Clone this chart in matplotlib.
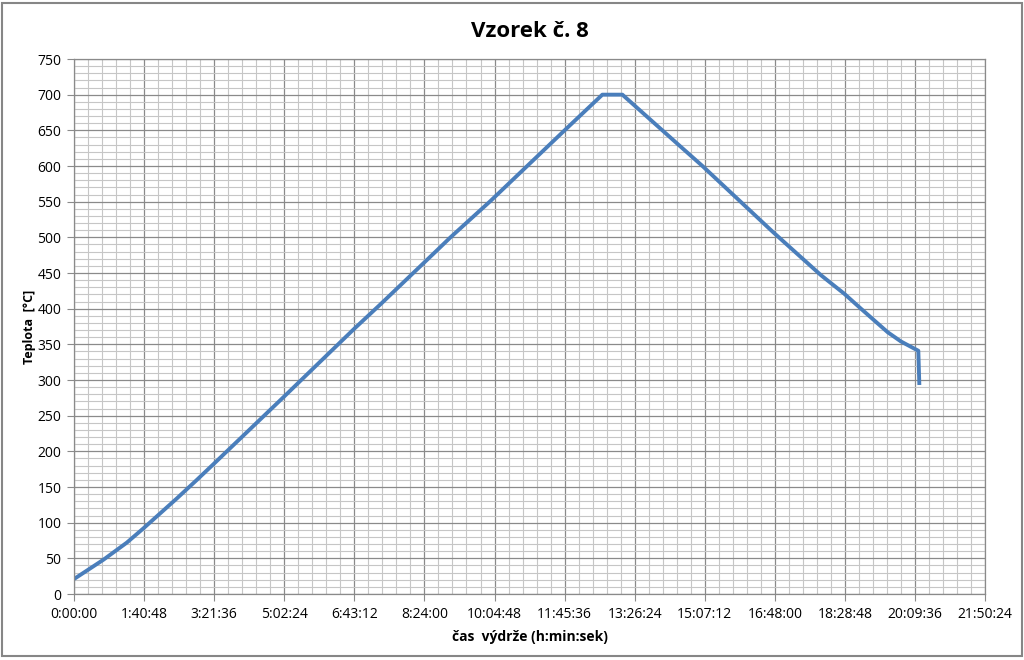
import numpy as np
import pandas as pd
import matplotlib
matplotlib.use('Agg')
import matplotlib.pyplot as plt
from matplotlib.ticker import MultipleLocator, FuncFormatter
from matplotlib.patches import Rectangle

plt.rcParams['font.family'] = ['Open Sans', 'DejaVu Sans']

# readings (time as h:mm:ss, temperature in °C)
times = ['0:00:00', '0:42:12', '1:15:53', '1:39:47', '2:03:51', '2:27:54',
         '2:56:41', '3:21:36', '5:02:24', '6:43:12', '7:20:38', '8:24:00',
         '8:42:17', '9:01:26', '9:59:03', '11:45:36', '12:39:54', '13:08:42',
         '14:32:38', '15:03:52', '16:44:40', '17:54:15', '18:27:47',
         '18:51:50', '19:30:17', '19:49:26', '20:14:22', '20:15:50']
temps = [21, 48, 72, 92, 113, 134,
         160, 183, 277, 372, 406, 465,
         482, 500, 551, 650, 700, 700,
         627, 600, 508, 447, 421,
         400, 367, 354, 341, 293]

title = 'Vzorek č. 8'
xlabel = 'čas  výdrže (h:min:sek)'
ylabel = 'Teplota  [°C]'

secs = pd.to_timedelta(times).total_seconds().to_numpy()

step = 6048  # 1:40:48
x_max = 13 * step


def hms(v, pos=None):
    v = int(round(v))
    return f'{v // 3600}:{(v % 3600) // 60:02d}:{v % 60:02d}'


fig = plt.figure(figsize=(10.24, 6.6), dpi=100)
ax = fig.add_axes([0.0723, 0.1, 0.8897, 0.8106])

ax.plot(secs, temps, color='#4A7EBB', linewidth=2.8,
        solid_joinstyle='round', solid_capstyle='butt')

ax.set_xlim(0, x_max)
ax.set_ylim(0, 750)
ax.xaxis.set_major_locator(MultipleLocator(step))
ax.xaxis.set_minor_locator(MultipleLocator(step / 5))
ax.yaxis.set_major_locator(MultipleLocator(50))
ax.yaxis.set_minor_locator(MultipleLocator(10))
ax.xaxis.set_major_formatter(FuncFormatter(hms))

ax.grid(which='minor', color='#C6C6C6', linewidth=0.8)
ax.grid(which='major', color='#8A8A8A', linewidth=0.9)
ax.set_axisbelow(True)

for s in ax.spines.values():
    s.set_color('#8A8A8A')
    s.set_linewidth(0.9)

ax.tick_params(which='major', length=5, color='#8A8A8A', labelsize=10, pad=4)
ax.tick_params(which='minor', length=0)

ax.set_title(title, fontsize=16, fontweight='bold', pad=16)
ax.set_xlabel(xlabel, fontsize=10, fontweight='bold', labelpad=6)
ax.set_ylabel(ylabel, fontsize=9, fontweight='bold', labelpad=1)

fig.patches.append(Rectangle((0.002, 0.006), 0.996, 0.99, transform=fig.transFigure,
                             fill=False, edgecolor='#868686', linewidth=1.5))

fig.savefig('out.png', dpi=100)
